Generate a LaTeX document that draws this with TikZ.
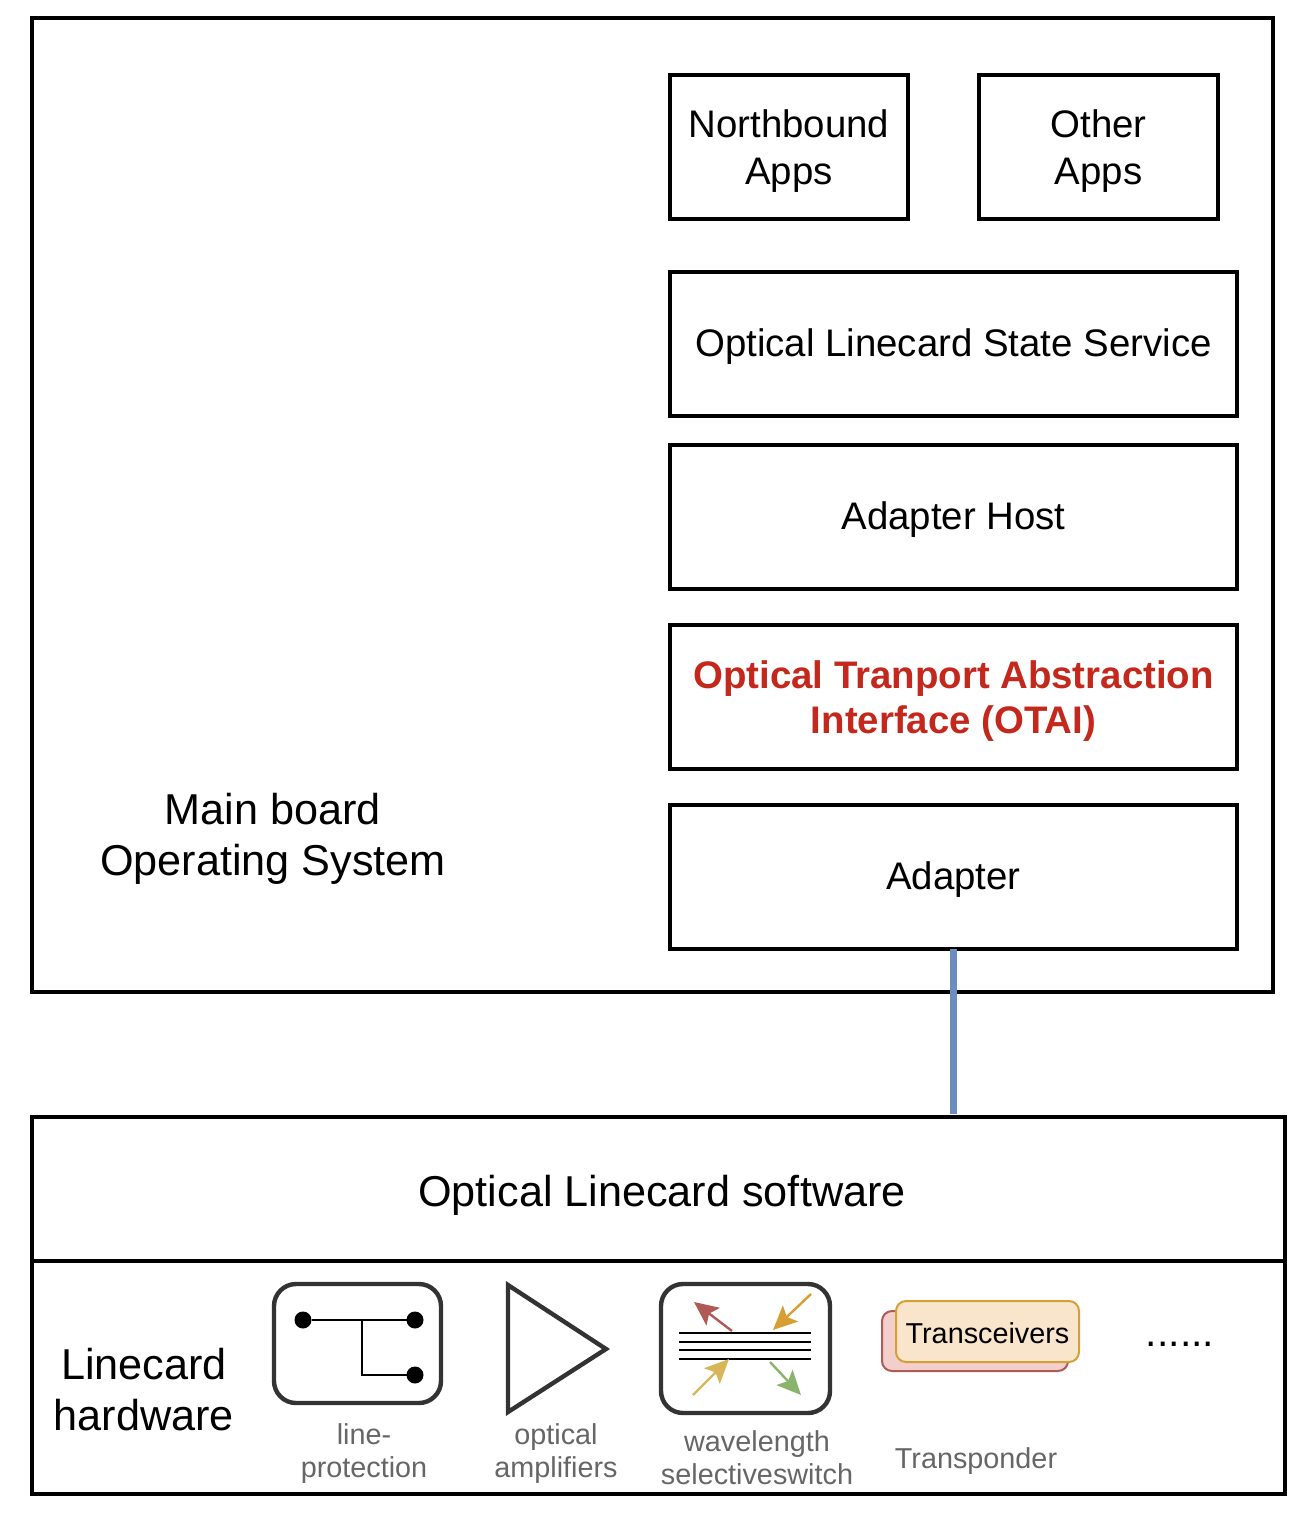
\documentclass[tikz,border=0pt]{standalone}
\usepackage{fontspec}
\setmainfont{Liberation Sans}
\usetikzlibrary{arrows.meta}
\definecolor{otaired}{HTML}{C4281C}
\definecolor{linkblue}{HTML}{6C8EBF}
\definecolor{icongray}{HTML}{333333}
\definecolor{labelgray}{HTML}{666666}
\definecolor{flowred}{HTML}{B05A55}
\definecolor{floworange}{HTML}{D79E33}
\definecolor{flowyellow}{HTML}{D6B656}
\definecolor{flowgreen}{HTML}{8AB36B}
\definecolor{backfill}{HTML}{F2CFCD}
\definecolor{frontfill}{HTML}{F9E5CC}
\tikzset{
  frame/.style={draw, line width=2pt, outer sep=0pt, inner sep=0pt, align=center},
  box/.style={frame, font=\fontsize{19.2}{23.5}\selectfont, execute at begin node=\rule{0pt}{16pt}},
  bigbox/.style={frame, font=\fontsize{21.6}{25.5}\selectfont},
  icon/.style={draw=icongray, line width=2.2pt, rounded corners=11pt, outer sep=0pt, inner sep=0pt},
  dot/.style={circle, fill=black, minimum size=8.5pt, inner sep=0pt, outer sep=0pt},
  caption/.style={text=labelgray, align=center, inner sep=0pt, font=\fontsize{14.4}{16.5}\selectfont},
  flow/.style={line width=1.2pt, -{Stealth[length=12pt,width=11pt,inset=2.5pt]}},
  card/.style={line width=1pt, rounded corners=5pt, outer sep=0pt, inner sep=0pt},
}
\begin{document}
\begin{tikzpicture}[x=0.5pt, y=-0.5pt]
\useasboundingbox (0,0) rectangle (1316,1520);
% main board
\node[bigbox, minimum width=620.5pt, minimum height=487pt] (board) at (652.5,505) {};
\node[bigbox, draw=none] (boardlabel) at (273,839) {Main board\\Operating System};
\node[box, minimum width=119pt, minimum height=72pt, execute at begin node=\rule{0pt}{41.5pt}] (north) at (789,147) {Northbound\\Apps};
\node[box, minimum width=119.5pt, minimum height=72pt, execute at begin node=\rule{0pt}{41.5pt}] (other) at (1098.5,147) {Other\\Apps};
\node[box, minimum width=283.5pt, minimum height=72pt] (state) at (953.5,344) {Optical Linecard State Service};
\node[box, minimum width=283.5pt, minimum height=72pt] (host) at (953.5,517) {Adapter Host};
\node[box, minimum width=283.5pt, minimum height=72pt, text=otaired, font=\fontsize{19.2}{22.5}\selectfont\bfseries, execute at begin node=\rule{0pt}{40.5pt}] (otai) at (953.5,697) {Optical Tranport Abstraction\\Interface (OTAI)};
\node[box, minimum width=283.5pt, minimum height=72pt] (adapter) at (953.5,877) {Adapter};
% linecard
\node[bigbox, minimum width=626.5pt, minimum height=72pt, execute at begin node=\rule{0pt}{22pt}] (software) at (658.5,1189) {\hspace*{3.5pt}Optical Linecard software};
\node[frame, minimum width=626.5pt, minimum height=116.5pt] (hardware) at (658.5,1377.5) {};
\node[bigbox, draw=none] (hwlabel) at (144,1390) {Linecard\\hardware};
\draw[linkblue, line width=3.5pt, shorten >=1.5pt] (adapter.south) -- (adapter.south |- software.north);
% line protection
\node[icon, minimum width=83.5pt, minimum height=59.5pt] (lineprot) at (357.5,1343.5) {};
\node[dot] (porta) at (303,1320) {};
\node[dot] (portb) at (415,1320) {};
\node[dot] (portc) at (415,1375) {};
\coordinate (tee) at (362,1320);
\draw[line width=1pt] (porta) -- (portb);
\draw[line width=1pt] (tee) |- (portc);
\node[caption] (lineprotlabel) at (364,1454) {line-\\protection};
% amplifier
\draw[icongray, line width=2.2pt] (508,1285) -- (606,1349) -- (508,1412) -- cycle;
\node[caption] (amplabel) at (556,1454) {optical\\amplifiers};
% wavelength switch
\node[icon, minimum width=84.5pt, minimum height=64.5pt] (wss) at (745.5,1348.5) {};
\foreach \y in {1332.5,1342,1349.5,1359}
  \draw[line width=1pt] (679,\y) -- (811,\y);
\coordinate (reda) at (732,1331);
\coordinate (redb) at (694,1302);
\coordinate (orangea) at (811,1294);
\coordinate (orangeb) at (773,1330);
\coordinate (yellowa) at (693,1395);
\coordinate (yellowb) at (729,1359);
\coordinate (greena) at (770,1362);
\coordinate (greenb) at (801,1395);
\draw[flow, flowred] (reda) -- (redb);
\draw[flow, floworange] (orangea) -- (orangeb);
\draw[flow, flowyellow] (yellowa) -- (yellowb);
\draw[flow, flowgreen] (greena) -- (greenb);
\node[caption] (wsslabel) at (757,1458) {wavelength\\selectiveswitch};
% transponder
\node[card, draw=flowred, fill=backfill, minimum width=93pt, minimum height=30pt] (trback) at (975,1341) {};
\node[card, draw=floworange, fill=frontfill, minimum width=91.5pt, minimum height=30.5pt, font=\fontsize{14.4}{17}\selectfont, execute at begin node=\rule{0pt}{12pt}] (trfront) at (987.5,1331.5) {Transceivers};
\node[caption] (trlabel) at (976,1461) {Transponder};
\node[inner sep=0pt, font=\fontsize{20.5}{24}\selectfont] (more) at (1180,1344) {......};
\end{tikzpicture}
\end{document}
